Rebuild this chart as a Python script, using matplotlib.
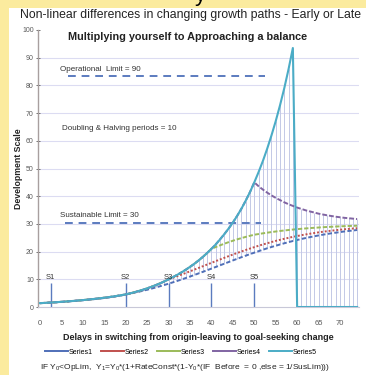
import matplotlib
matplotlib.use("Agg")
import matplotlib.pyplot as plt
from matplotlib.lines import Line2D
from matplotlib.patches import Rectangle

plt.rcParams['font.family'] = ['Liberation Sans', 'DejaVu Sans']
plt.rcParams['mathtext.default'] = 'regular'

# x positions (delay steps)
steps = list(range(75))

# Series5: pure growth until it passes the operational limit, then collapses
series5 = [1.40, 1.48, 1.57, 1.66, 1.76, 1.87, 1.98, 2.10, 2.22, 2.36,
           2.50, 2.65, 2.81, 2.98, 3.16, 3.35, 3.56, 3.78, 4.02, 4.28,
           4.55, 4.92, 5.32, 5.76, 6.23, 6.74, 7.29, 7.89, 8.54, 9.24,
           10.0, 10.77, 11.6, 12.49, 13.45, 14.49, 15.6, 16.8, 18.1, 19.5,
           21.0, 22.6, 24.4, 26.3, 28.3, 30.5, 32.9, 35.5, 38.4, 41.5,
           45.0, 48.7, 52.7, 57.1, 61.9, 67.1, 72.8, 79.0, 85.9, 93.5] + [0] * 15

# Series1 (switched early)
series1 = [1.38, 1.46, 1.54, 1.63, 1.73, 1.83, 1.94, 2.06, 2.18, 2.31,
           2.45, 2.59, 2.74, 2.90, 3.07, 3.25, 3.45, 3.66, 3.92, 4.20,
           4.51, 4.82, 5.18, 5.50, 5.86, 6.24, 6.64, 7.06, 7.50, 7.95,
           8.42, 8.91, 9.41, 9.93, 10.46, 11.00, 11.56, 12.13, 12.70, 13.29,
           13.87, 14.46, 15.05, 15.64, 16.23, 16.82, 17.40, 17.98, 18.54, 19.10,
           19.63, 20.16, 20.68, 21.19, 21.66, 22.12, 22.57, 23.01, 23.42, 23.83,
           24.19, 24.57, 24.90, 25.23, 25.53, 25.84, 26.11, 26.36, 26.62, 26.83,
           27.05, 27.27, 27.45, 27.62, 27.80]

# tails after each switch point (before that they ride on Series5)
series2_tail = [10.56, 11.12, 11.70, 12.29, 12.89, 13.50, 14.11, 14.72, 15.34, 15.95,
                16.56, 17.16, 17.76, 18.36, 18.94, 19.50, 20.05, 20.59, 21.11, 21.61,
                22.11, 22.57, 23.02, 23.45, 23.87, 24.25, 24.63, 24.98, 25.32, 25.62,
                25.93, 26.20, 26.46, 26.71, 26.95, 27.17, 27.37, 27.55, 27.73, 27.91,
                28.06, 28.20, 28.33, 28.46]
series3_tail = [21.65, 22.26, 22.85, 23.41, 23.93, 24.42, 24.88, 25.31, 25.72, 26.09,
                26.35, 26.60, 26.83, 27.05, 27.26, 27.45, 27.63, 27.80, 27.96, 28.11,
                28.24, 28.37, 28.49, 28.60, 28.70, 28.80, 28.89, 28.97, 29.05, 29.12,
                29.19, 29.25, 29.30, 29.35]
series4_tail = [43.6, 42.4, 41.3, 40.3, 39.4, 38.6, 37.8, 37.1, 36.5, 35.9,
                35.4, 34.9, 34.5, 34.1, 33.7, 33.4, 33.1, 32.85, 32.6, 32.4,
                32.2, 32.05, 31.9, 31.75]

series2 = series5[:31] + series2_tail
series3 = series5[:41] + series3_tail
series4 = series5[:51] + series4_tail

switch_pos = [2.5, 20, 30, 40, 50]
switch_labels = ['S1', 'S2', 'S3', 'S4', 'S5']

names = ['Series1', 'Series2', 'Series3', 'Series4', 'Series5']
colors = ['#4f6fb8', '#c0504d', '#9bbb59', '#8064a2', '#4bacc6']
dashes = [(2.2, 1.2), (1.0, 1.0), (2.2, 1.0), (2.5, 1.0), None]

fig = plt.figure(figsize=(3.66, 3.75), dpi=100)
fig.patch.set_facecolor('#fbeb9e')
fig.patches.append(Rectangle((9 / 366, 0), 1, 1 - 8 / 375, transform=fig.transFigure,
                             facecolor='white', edgecolor='none', zorder=-5))

ax = fig.add_axes([0.1036, 0.1813, 0.878, 0.7387])
ax.set_facecolor('none')

all_series = [series1, series2, series3, series4, series5]

# high-low lines
lows = [min(v) for v in zip(*all_series)]
highs = [max(v) for v in zip(*all_series)]
ax.vlines(steps, lows, highs, color='#c3c9e6', lw=0.7, zorder=1)

for vals, name, c, d in zip(all_series, names, colors, dashes):
    ln, = ax.plot(steps, vals, color=c, lw=1.5, label=name, zorder=3)
    if d is not None:
        ln.set_dashes(d)
        ln.set_lw(1.4)

# switch markers
for sx, sl in zip(switch_pos, switch_labels):
    ax.vlines(sx, 0, 8.7, color='#5b7bbf', lw=1.0, zorder=2)
    ax.text(sx, 10.6, sl, ha='center', va='center', fontsize=5.5, color='#333333')

# limits annotations
ax.plot([6.5, 52.5], [83.5, 83.5], color='#5b7bbf', lw=1.4, dashes=(4, 3), zorder=2)
ax.plot([5.8, 51.5], [30.2, 30.2], color='#5b7bbf', lw=1.4, dashes=(4, 3), zorder=2)
ax.text(4.7, 85.6, 'Operational  Limit = 90', fontsize=5.8, color='#333333', va='center')
ax.text(5.1, 64.6, 'Doubling & Halving periods = 10', fontsize=5.8, color='#333333', va='center')
ax.text(4.7, 33.0, 'Sustainable Limit = 30', fontsize=5.8, color='#333333', va='center')

ax.set_xlim(-0.5, 74.5)
ax.set_ylim(0, 100)
ax.set_xticks(range(0, 75, 5))
ax.set_yticks(range(0, 101, 10))
for yv in range(10, 100, 10):
    ax.axhline(yv, color='#dcdcf2', lw=0.8, zorder=0)

for s in ['top', 'right']:
    ax.spines[s].set_visible(False)
ax.spines['left'].set_color('#a89f9f')
ax.spines['left'].set_linewidth(1.0)
ax.spines['bottom'].set_color('#c8c8d8')
ax.spines['bottom'].set_linewidth(0.8)
ax.tick_params(axis='y', labelsize=5, colors='#595959', direction='inout', length=3, width=0.6, pad=1.5)
ax.tick_params(axis='x', labelsize=5.5, colors='#595959', length=0, pad=9)

ax.set_ylabel('Development Scale', fontsize=6.3, fontweight='bold', color='#222222')
ax.yaxis.set_label_coords(-0.046, 0.5)
ax.set_xlabel('Delays in switching from origin-leaving to goal-seeking change',
              fontsize=6.5, fontweight='bold', color='#222222', labelpad=5)

fig.text(20 / 366, 0.960, 'Non-linear differences in changing growth paths - Early or Late',
         fontsize=8.8, color='#222222', va='center', ha='left')
fig.text(188 / 366, 0.901, 'Multiplying yourself to Approaching a balance',
         fontsize=7.8, fontweight='bold', color='#222222', va='center', ha='center')
fig.text(200 / 366, 0.997, 'y', fontsize=16, color='black', ha='center', va='baseline')

handles = [Line2D([0], [0], color=c, lw=1.4) for c in colors]
fig.legend(handles, names, loc='center', bbox_to_anchor=(0.495, 0.061), ncol=5,
           frameon=False, fontsize=5, handlelength=3.2, handletextpad=0.2, columnspacing=1.2)

fig.text(0.505, 0.021,
         r'IF Y$_0$<OpLim,  Y$_1$=Y$_0$*(1+RateConst*(1-Y$_0$*(IF  Before  = 0 ,else = 1/SusLim)))',
         fontsize=6.0, color='#222222', ha='center', va='center')

fig.savefig('out.png', dpi=100)
